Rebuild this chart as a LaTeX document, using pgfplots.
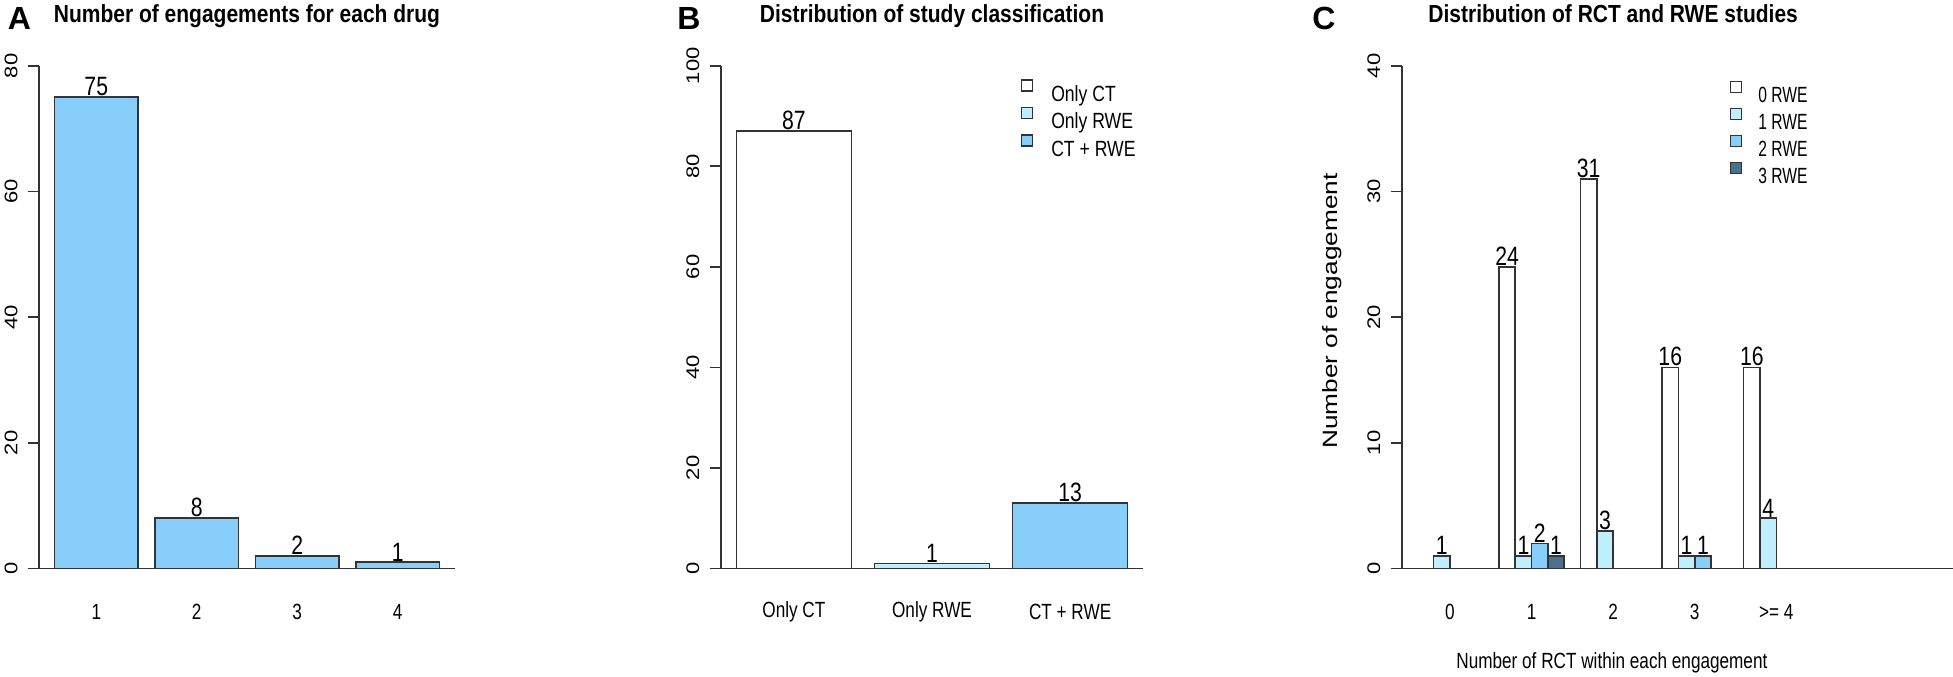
\documentclass[border=0pt]{standalone}
\usepackage{pgfplots}
\pgfplotsset{compat=1.18}
\usepackage{fontspec}
\setmainfont{Liberation Sans}
\usepackage{graphicx}
\definecolor{skyA}{HTML}{87CEFA}
\definecolor{lbA}{HTML}{BFEFFF}
\definecolor{skB}{HTML}{4A708B}
\definecolor{edge}{HTML}{333333}
\newcommand{\hs}[2]{\scalebox{#1}[1]{#2}}
\newcommand{\vsq}[2]{\scalebox{1}[#1]{#2}}
\newcommand{\xt}[1]{\hs{0.78}{#1}}
\newcommand{\yt}[1]{\vsq{0.83}{#1}}
\pgfplotsset{
  rstyle/.style={
    scale only axis,
    height=251.35pt,
    axis x line=bottom, axis y line=left,
    axis line style={-, draw=black!80, line width=0.85pt},
    tick align=outside,
    xtick style={draw=none},
    ytick style={draw=black!80, line width=0.85pt},
    major tick length=5.5pt,
    ymin=0,
    clip=false,
    ticklabel style={font=\fontsize{11}{13}\selectfont},
    xticklabel style={anchor=center, yshift=-16.25pt},
    yticklabel style={xshift=-8.4pt, rotate=90, anchor=center},
    title style={at={(axis description cs:0.5,1)}, anchor=base, yshift=15.55pt,
      font=\fontsize{12.35}{14}\selectfont\bfseries},
    nodes near coords={\hs{0.8}{\pgfmathprintnumber[assume math mode=true]{\pgfplotspointmeta}}},
    every node near coord/.append style={anchor=south, inner sep=0pt, yshift=0.2pt,
      font=\fontsize{13.25}{15}\selectfont, text=black},
    legend image code/.code={\draw[#1, line width=0.6pt] (0pt,1.19pt) rectangle (5.5pt,6.69pt);},
    legend cell align=left,
  },
  rbar/.style={ybar, bar width=1, bar shift=0pt, draw=edge, line width=0.8pt},
}
\begin{document}
\begin{tikzpicture}
\useasboundingbox (0,0) rectangle (976.5pt,338pt);

% ---------------- Panel A ----------------
\begin{axis}[rstyle,
  at={(19.5pt,53.75pt)}, anchor=south west,
  width=208pt,
  xmin=0.016, xmax=4.984, ymax=80,
  xtick={0.7,1.9,3.1,4.3},
  xticklabels={\xt{1},\xt{2},\xt{3},\xt{4}},
  ytick={0,20,40,60,80},
  yticklabels={\yt{0},\yt{20},\yt{40},\yt{60},\yt{80}},
  title={\hs{0.85}{Number of engagements for each drug}},
]
\addplot[rbar, fill=skyA] coordinates {(0.7,75) (1.9,8) (3.1,2) (4.3,1)};
\end{axis}
\node[anchor=base, font=\fontsize{16}{18}\selectfont\bfseries] at (9.75pt,323pt) {A};

% ---------------- Panel B ----------------
\begin{axis}[rstyle,
  at={(360.35pt,53.75pt)}, anchor=south west,
  width=211.3pt,
  xmin=0.064, xmax=3.736, ymax=100,
  xtick={0.7,1.9,3.1},
  xticklabels={\xt{Only CT},\xt{Only RWE},\xt{CT + RWE}},
  ytick={0,20,40,60,80,100},
  yticklabels={\yt{0},\yt{20},\yt{40},\yt{60},\yt{80},\yt{100}},
  title={\hs{0.85}{Distribution of study classification}},
  legend style={at={(rel axis cs:0.71,0.973)}, anchor=north west, draw=none, fill=none,
    inner sep=0pt, outer sep=0pt, row sep=0pt,
    nodes={inner sep=0pt, text height=10.69pt, text depth=2.81pt, font=\fontsize{11}{13}\selectfont},
    /tikz/every odd column/.append style={column sep=9.15pt}},
]
\addplot[rbar, fill=white] coordinates {(0.7,87)};
\addlegendentry{\hs{0.8}{Only CT}}
\addplot[rbar, fill=lbA] coordinates {(1.9,1)};
\addlegendentry{\hs{0.8}{Only RWE}}
\addplot[rbar, fill=skyA] coordinates {(3.1,13)};
\addlegendentry{\hs{0.8}{CT + RWE}}
\end{axis}
\node[anchor=base, font=\fontsize{16}{18}\selectfont\bfseries] at (344.5pt,323pt) {B};

% ---------------- Panel C ----------------
\begin{axis}[rstyle,
  at={(700.85pt,53.75pt)}, anchor=south west,
  width=211.45pt,
  xmin=0.04, xmax=25.96, ymax=40,
  xtick={3,8,13,18,23},
  xticklabels={\xt{0},\xt{1},\xt{2},\xt{3},\xt{>= 4}},
  ytick={0,10,20,30,40},
  yticklabels={\yt{0},\yt{10},\yt{20},\yt{30},\yt{40}},
  title={\hs{0.85}{Distribution of RCT and RWE studies}},
  xlabel={\hs{0.78}{Number of RCT within each engagement}},
  xlabel style={at={(axis description cs:0.497,0)}, anchor=center, yshift=-47.25pt,
    font=\fontsize{11}{13}\selectfont},
  ylabel={\vsq{0.79}{Number of engagement}},
  ylabel style={at={(axis description cs:0,0.512)}, anchor=center, yshift=35pt,
    font=\fontsize{13.1}{15}\selectfont},
  legend style={at={(rel axis cs:0.776,0.970)}, anchor=north west, draw=none, fill=none,
    inner sep=0pt, outer sep=0pt, row sep=0pt,
    nodes={inner sep=0pt, text height=10.44pt, text depth=2.56pt, font=\fontsize{11}{13}\selectfont},
    /tikz/every odd column/.append style={column sep=8.15pt}},
]
\addplot[rbar, fill=white] coordinates {(6.5,24) (11.5,31) (16.5,16) (21.5,16)};
\addlegendentry{\hs{0.71}{0 RWE}}
\addplot[rbar, fill=lbA] coordinates {(2.5,1) (7.5,1) (12.5,3) (17.5,1) (22.5,4)};
\addlegendentry{\hs{0.71}{1 RWE}}
\addplot[rbar, fill=skyA] coordinates {(8.5,2) (18.5,1)};
\addlegendentry{\hs{0.71}{2 RWE}}
\addplot[rbar, fill=skB] coordinates {(9.5,1)};
\addlegendentry{\hs{0.71}{3 RWE}}
\draw[draw=black!80, line width=0.85pt] (rel axis cs:1,0) -- ++(64.5pt,0pt);
\end{axis}
\node[anchor=base, font=\fontsize{16}{18}\selectfont\bfseries] at (662pt,323pt) {C};
\end{tikzpicture}
\end{document}
